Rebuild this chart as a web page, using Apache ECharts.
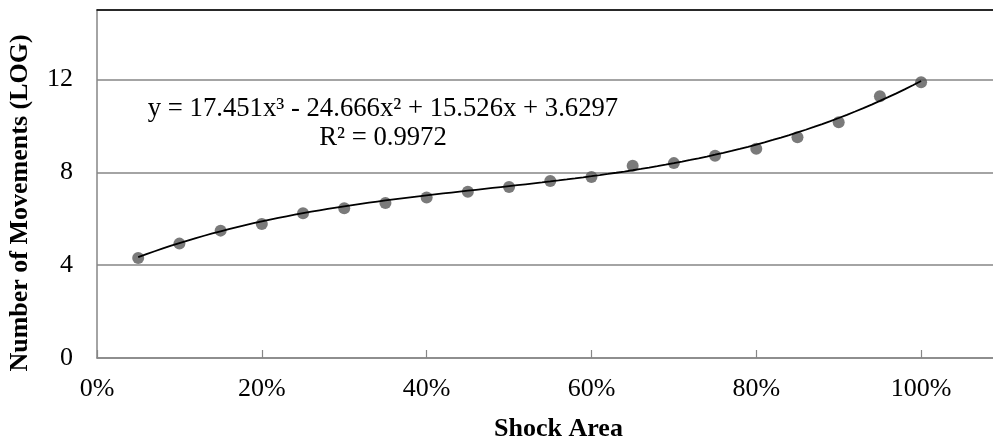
<!DOCTYPE html>
<html>
<head>
<meta charset="utf-8">
<script src="https://cdn.jsdelivr.net/npm/echarts@6/dist/echarts.min.js"></script>
<style>
  html, body { margin: 0; padding: 0; background: #fff; overflow: hidden; width: 993px; height: 443px; }
  /* the plot area continues a little past the visible right edge */
  #chart { width: 1020px; height: 443px; }
</style>
</head>
<body>
<div id="chart"></div>
<script>
// Shock area (fraction of total) and log number of movements
const shockArea = [0.05, 0.10, 0.15, 0.20, 0.25, 0.30, 0.35, 0.40, 0.45, 0.50,
                   0.55, 0.60, 0.65, 0.70, 0.75, 0.80, 0.85, 0.90, 0.95, 1.00];
const movements = [4.31, 4.93, 5.49, 5.78, 6.24, 6.45, 6.68, 6.92, 7.17, 7.37,
                   7.63, 7.80, 8.29, 8.40, 8.72, 9.02, 9.52, 10.16, 11.28, 11.89];

// Cubic trend coefficients, highest power first
const trendCoef = [17.451, -24.666, 15.526, 3.6297];
const trendLabel = ['y = 17.451x\u00b3 - 24.666x\u00b2 + 15.526x + 3.6297', 'R\u00b2 = 0.9972'];

const xTitle = 'Shock Area';
const yTitle = 'Number of Movements (LOG)';

const FONT = '"Liberation Serif", "Times New Roman", serif';

function poly(x) {
  return trendCoef.reduce((acc, c) => acc * x + c, 0);
}
// Trend curve evaluated across the data span
const trendData = [];
for (let i = 5; i <= 100; i++) {
  const x = i / 100;
  trendData.push([x, poly(x)]);
}

const chart = echarts.init(document.getElementById('chart'));
const option = {
  animation: false,
  backgroundColor: '#ffffff',
  grid: { left: 97, right: 0, top: 10, bottom: 85, containLabel: false, outerBoundsMode: 'none' },
  xAxis: [{
    type: 'value', min: 0, max: 1.12, interval: 0.2,
    axisLine: { lineStyle: { color: '#868686', width: 1.5 } },
    axisTick: { show: true, inside: true, length: 8, lineStyle: { color: '#868686', width: 1.2 } },
    splitLine: { show: false },
    axisLabel: {
      showMaxLabel: false, margin: 18,
      fontFamily: FONT, fontSize: 26, color: '#000',
      formatter: v => Math.round(v * 100) + '%'
    },
    name: xTitle, nameLocation: 'middle', nameGap: 58,
    nameTextStyle: { fontFamily: FONT, fontSize: 26, fontWeight: 'bold', color: '#000' }
  }, {
    type: 'value', position: 'top', min: 0, max: 1.12,
    axisLine: { show: true, lineStyle: { color: '#000', width: 1.5 } },
    axisTick: { show: false }, axisLabel: { show: false }, splitLine: { show: false }
  }],
  yAxis: {
    type: 'value', min: 0, max: 15, interval: 4,
    axisLine: { show: true, lineStyle: { color: '#868686', width: 1.5 } },
    axisTick: { show: false },
    splitLine: { lineStyle: { color: '#868686', width: 1.5 } },
    axisLabel: {
      showMaxLabel: false, margin: 24,
      fontFamily: FONT, fontSize: 26, color: '#000'
    }
  },
  graphic: [{
    type: 'text', x: 20, y: 203, rotation: Math.PI / 2,
    style: {
      text: yTitle, font: 'bold 26px ' + FONT, fill: '#000',
      textAlign: 'center', textVerticalAlign: 'middle'
    }
  }, {
    type: 'text', x: 383, y: 94,
    style: {
      text: trendLabel.join('\n'), font: '26.7px ' + FONT, fill: '#000',
      textAlign: 'center', lineHeight: 29
    }
  }],
  series: [{
    type: 'scatter',
    data: shockArea.map((x, i) => [x, movements[i]]),
    symbol: 'circle', symbolSize: 12,
    itemStyle: { color: '#595959' },
    z: 2
  }, {
    type: 'line',
    data: trendData,
    showSymbol: false, smooth: false,
    lineStyle: { color: '#000', width: 1.8 },
    z: 3
  }]
};
chart.setOption(option);
</script>
</body>
</html>
